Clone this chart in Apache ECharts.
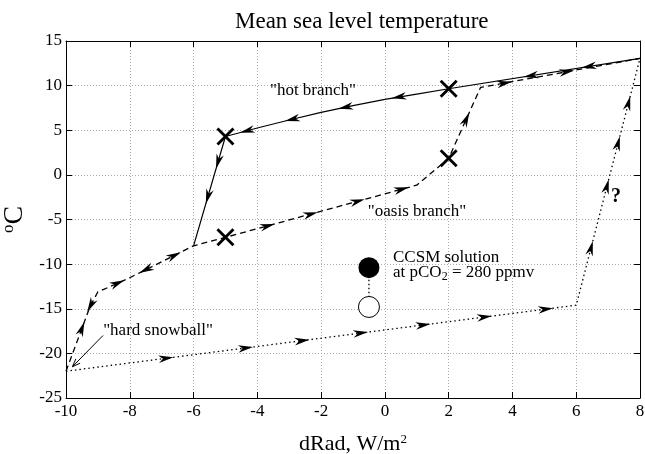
<!DOCTYPE html>
<html><head><meta charset="utf-8">
<script src="https://cdn.jsdelivr.net/npm/echarts@6/dist/echarts.min.js"></script>
<style>html,body{margin:0;padding:0;background:#fff}#c{width:645px;height:454px}</style>
</head><body><div id="c"></div>
<script>
// ---- data ----
const titleText = 'Mean sea level temperature';
const xName = 'dRad, W/m';
const hotBranch = [[8,13.05],[2,9.65],[1,9.05],[0,8.45],[-1,7.75],[-2,7.0],[-3,6.15],[-4,5.25],[-5,4.3],[-6,-7.95]];
const dashedBranch = [[-10,-22],[-9.25,-14.8],[-9.0,-13.1],[-8.8,-12.8],[-8.1,-11.7],[-6,-7.95],[-5,-7.0],[1,-1.15],[2,1.85],[3,9.8],[8,13.05]];
const dottedBranch = [[-10,-22],[6,-14.6],[8,13.05]];
const crossPoints = [[2,9.65],[-5,4.3],[-5,-7.0],[2,1.85]];
const ccsmFilled = [[-0.5,-10.4]];
const ccsmOpen = [[-0.5,-14.8]];
// arrows: [segment index, fraction along segment, direction (+1 along data order, -1 reverse)]
const hotArrows = [[0,0.267,1],[0,0.57,1],[2,0.56,1],[4,0.23,1],[5,0.9,1],[7,0.32,1],[8,0.23,1],[8,0.55,1]];
const dashedArrows = [[0,0.66,1],[1,0.1,-1],[3,0.59,1],[4,0.29,-1],[4,0.71,1],[6,0.22,1],[6,0.445,1],[6,0.69,1],[6,0.92,1],[8,0.55,1],[9,0.15,1],[9,0.54,1]];
const dottedArrows = [[0,0.196,1],[0,0.352,1],[0,0.4625,1],[0,0.5775,1],[0,0.70,1],[0,0.82,1],[0,0.94,1],[1,0.231,1],[1,0.481,1],[1,0.655,1],[1,0.818,1]];
const snowballPointer = [[-8.84,-18.0],[-9.8,-21.5]];

const FONT = "'Liberation Serif','DejaVu Serif',serif";

function arrowData(path, arrows){
  return arrows.map(a => {
    const p0 = path[a[0]], p1 = path[a[0]+1], t = a[1];
    const x = p0[0] + (p1[0]-p0[0])*t, y = p0[1] + (p1[1]-p0[1])*t;
    return a[2] > 0 ? [x, y, p0[0], p0[1], p1[0], p1[1]] : [x, y, p1[0], p1[1], p0[0], p0[1]];
  });
}
function renderArrow(params, api){
  const c = api.coord([api.value(0), api.value(1)]);
  const a = api.coord([api.value(2), api.value(3)]);
  const b = api.coord([api.value(4), api.value(5)]);
  let dx = b[0]-a[0], dy = b[1]-a[1];
  const L = Math.hypot(dx, dy) || 1; dx/=L; dy/=L;
  const nx = -dy, ny = dx;
  const h = 7.5, w = 3.8, notch = 4.5;
  const tip = [c[0]+dx*h, c[1]+dy*h];
  const bl = [c[0]-dx*h+nx*w, c[1]-dy*h+ny*w];
  const br = [c[0]-dx*h-nx*w, c[1]-dy*h-ny*w];
  const nt = [c[0]-dx*(h-notch), c[1]-dy*(h-notch)];
  return {type:'polygon', shape:{points:[tip, bl, nt, br]}, style:{fill:'#000'}};
}
function renderCross(params, api){
  const c = api.coord([api.value(0), api.value(1)]);
  const s = 8;
  return {type:'group', children:[
    {type:'line', shape:{x1:c[0]-s,y1:c[1]-s,x2:c[0]+s,y2:c[1]+s}, style:{stroke:'#000', lineWidth:2.8}},
    {type:'line', shape:{x1:c[0]-s,y1:c[1]+s,x2:c[0]+s,y2:c[1]-s}, style:{stroke:'#000', lineWidth:2.8}}
  ]};
}
function renderPointer(params, api){
  if (params.dataIndex !== 0) return null;
  const a = api.coord(snowballPointer[0]), b = api.coord(snowballPointer[1]);
  let dx = b[0]-a[0], dy = b[1]-a[1];
  const L = Math.hypot(dx,dy); dx/=L; dy/=L;
  const nx=-dy, ny=dx, h=8, w=3;
  return {type:'group', children:[
    {type:'line', shape:{x1:a[0],y1:a[1],x2:b[0],y2:b[1]}, style:{stroke:'#000', lineWidth:1}},
    {type:'polyline', shape:{points:[[b[0]-dx*h+nx*w,b[1]-dy*h+ny*w],[b[0],b[1]],[b[0]-dx*h-nx*w,b[1]-dy*h-ny*w]]}, style:{stroke:'#000', lineWidth:1, fill:null}}
  ]};
}

const axisText = {fontFamily:FONT, fontSize:17, color:'#000'};
const chart = echarts.init(document.getElementById('c'), null, {renderer:'canvas'});
chart.setOption({
  animation:false,
  backgroundColor:'#fff',
  title:{text:titleText, left:230, top:5, textStyle:{fontFamily:FONT, fontSize:23, fontWeight:'normal', color:'#000'}},
  grid:{left:66, right:5, top:41, bottom:56, containLabel:false, outerBoundsMode:'none'},
  xAxis:[{
    type:'value', min:-10, max:8, interval:2, position:'bottom',
    name:xName+'{sup|2}', nameLocation:'middle', nameGap:35,
    nameTextStyle:{fontFamily:FONT, fontSize:22, color:'#000', rich:{sup:{fontFamily:FONT, fontSize:13, verticalAlign:'top', padding:[0,0,10,0]}}},
    axisLine:{onZero:false, lineStyle:{color:'#000', width:1}},
    axisTick:{inside:true, length:6, lineStyle:{color:'#000'}},
    axisLabel:Object.assign({margin:5}, axisText),
    splitLine:{show:true, lineStyle:{type:[1,2], color:'#aaa', width:1}}
  },{
    type:'value', min:-10, max:8, interval:2, position:'top',
    axisLine:{onZero:false, lineStyle:{color:'#000', width:1}},
    axisTick:{inside:true, length:6, lineStyle:{color:'#000'}},
    axisLabel:{show:false}, splitLine:{show:false}
  }],
  yAxis:[{
    type:'value', min:-25, max:15, interval:5, position:'left',
    name:'{sup|o}C', nameLocation:'middle', nameGap:19,
    nameTextStyle:{fontFamily:FONT, fontSize:28, color:'#000', rich:{sup:{fontFamily:FONT, fontSize:17, verticalAlign:'top', padding:[0,0,12,0]}}},
    axisLine:{onZero:false, lineStyle:{color:'#000', width:1}},
    axisTick:{inside:true, length:6, lineStyle:{color:'#000'}},
    axisLabel:Object.assign({margin:4}, axisText),
    splitLine:{show:true, lineStyle:{type:[1,2], color:'#aaa', width:1}}
  },{
    type:'value', min:-25, max:15, interval:5, position:'right',
    axisLine:{onZero:false, lineStyle:{color:'#000', width:1}},
    axisTick:{inside:true, length:6, lineStyle:{color:'#000'}},
    axisLabel:{show:false}, splitLine:{show:false}
  }],
  series:[
    {type:'line', data:dottedBranch, symbol:'none', lineStyle:{color:'#000', width:1.3, type:[1.5,3]}, z:2},
    {type:'line', data:dashedBranch, symbol:'none', lineStyle:{color:'#000', width:1.3, type:[6,4]}, z:3},
    {type:'line', data:hotBranch, symbol:'none', lineStyle:{color:'#000', width:1.2, type:'solid'}, z:4},
    {type:'line', data:[ccsmFilled[0], ccsmOpen[0]], symbol:'none', lineStyle:{color:'#000', width:1.3, type:[1.5,2.5]}, z:4},
    {type:'scatter', data:ccsmFilled, symbol:'circle', symbolSize:21, itemStyle:{color:'#000', opacity:1}, z:6},
    {type:'scatter', data:ccsmOpen, symbol:'circle', symbolSize:21, itemStyle:{color:'#fff', borderColor:'#000', borderWidth:1, opacity:1}, z:6},
    {type:'custom', data:crossPoints, renderItem:renderCross, z:7},
    {type:'custom', data:arrowData(hotBranch, hotArrows), renderItem:renderArrow, z:8, encode:{x:0,y:1}},
    {type:'custom', data:arrowData(dashedBranch, dashedArrows), renderItem:renderArrow, z:8, encode:{x:0,y:1}},
    {type:'custom', data:arrowData(dottedBranch, dottedArrows), renderItem:renderArrow, z:8, encode:{x:0,y:1}},
    {type:'custom', data:snowballPointer, renderItem:renderPointer, z:8}
  ],
  graphic:[
    {type:'text', x:313, y:91, style:{text:'"hot branch"', font:'17px '+FONT, fill:'#000', textAlign:'center', textVerticalAlign:'middle'}, z:10},
    {type:'text', x:417, y:212, style:{text:'"oasis branch"', font:'17px '+FONT, fill:'#000', textAlign:'center', textVerticalAlign:'middle'}, z:10},
    {type:'text', x:158, y:331, style:{text:'"hard snowball"', font:'17px '+FONT, fill:'#000', textAlign:'center', textVerticalAlign:'middle'}, z:10},
    {type:'text', x:616, y:197, style:{text:'?', font:'bold 20px '+FONT, fill:'#000', textAlign:'center', textVerticalAlign:'middle'}, z:10},
    {type:'text', x:393, y:258, style:{text:'CCSM solution', font:'17px '+FONT, fill:'#000', textAlign:'left', textVerticalAlign:'middle'}, z:10},
    {type:'text', x:393, y:273, style:{text:'at pCO{sub|2} = 280 ppmv', font:'17px '+FONT, fill:'#000', textAlign:'left', textVerticalAlign:'middle', rich:{sub:{font:'12px '+FONT, verticalAlign:'bottom', padding:[8,0,0,0]}}}, z:10}
  ]
});
</script></body></html>
